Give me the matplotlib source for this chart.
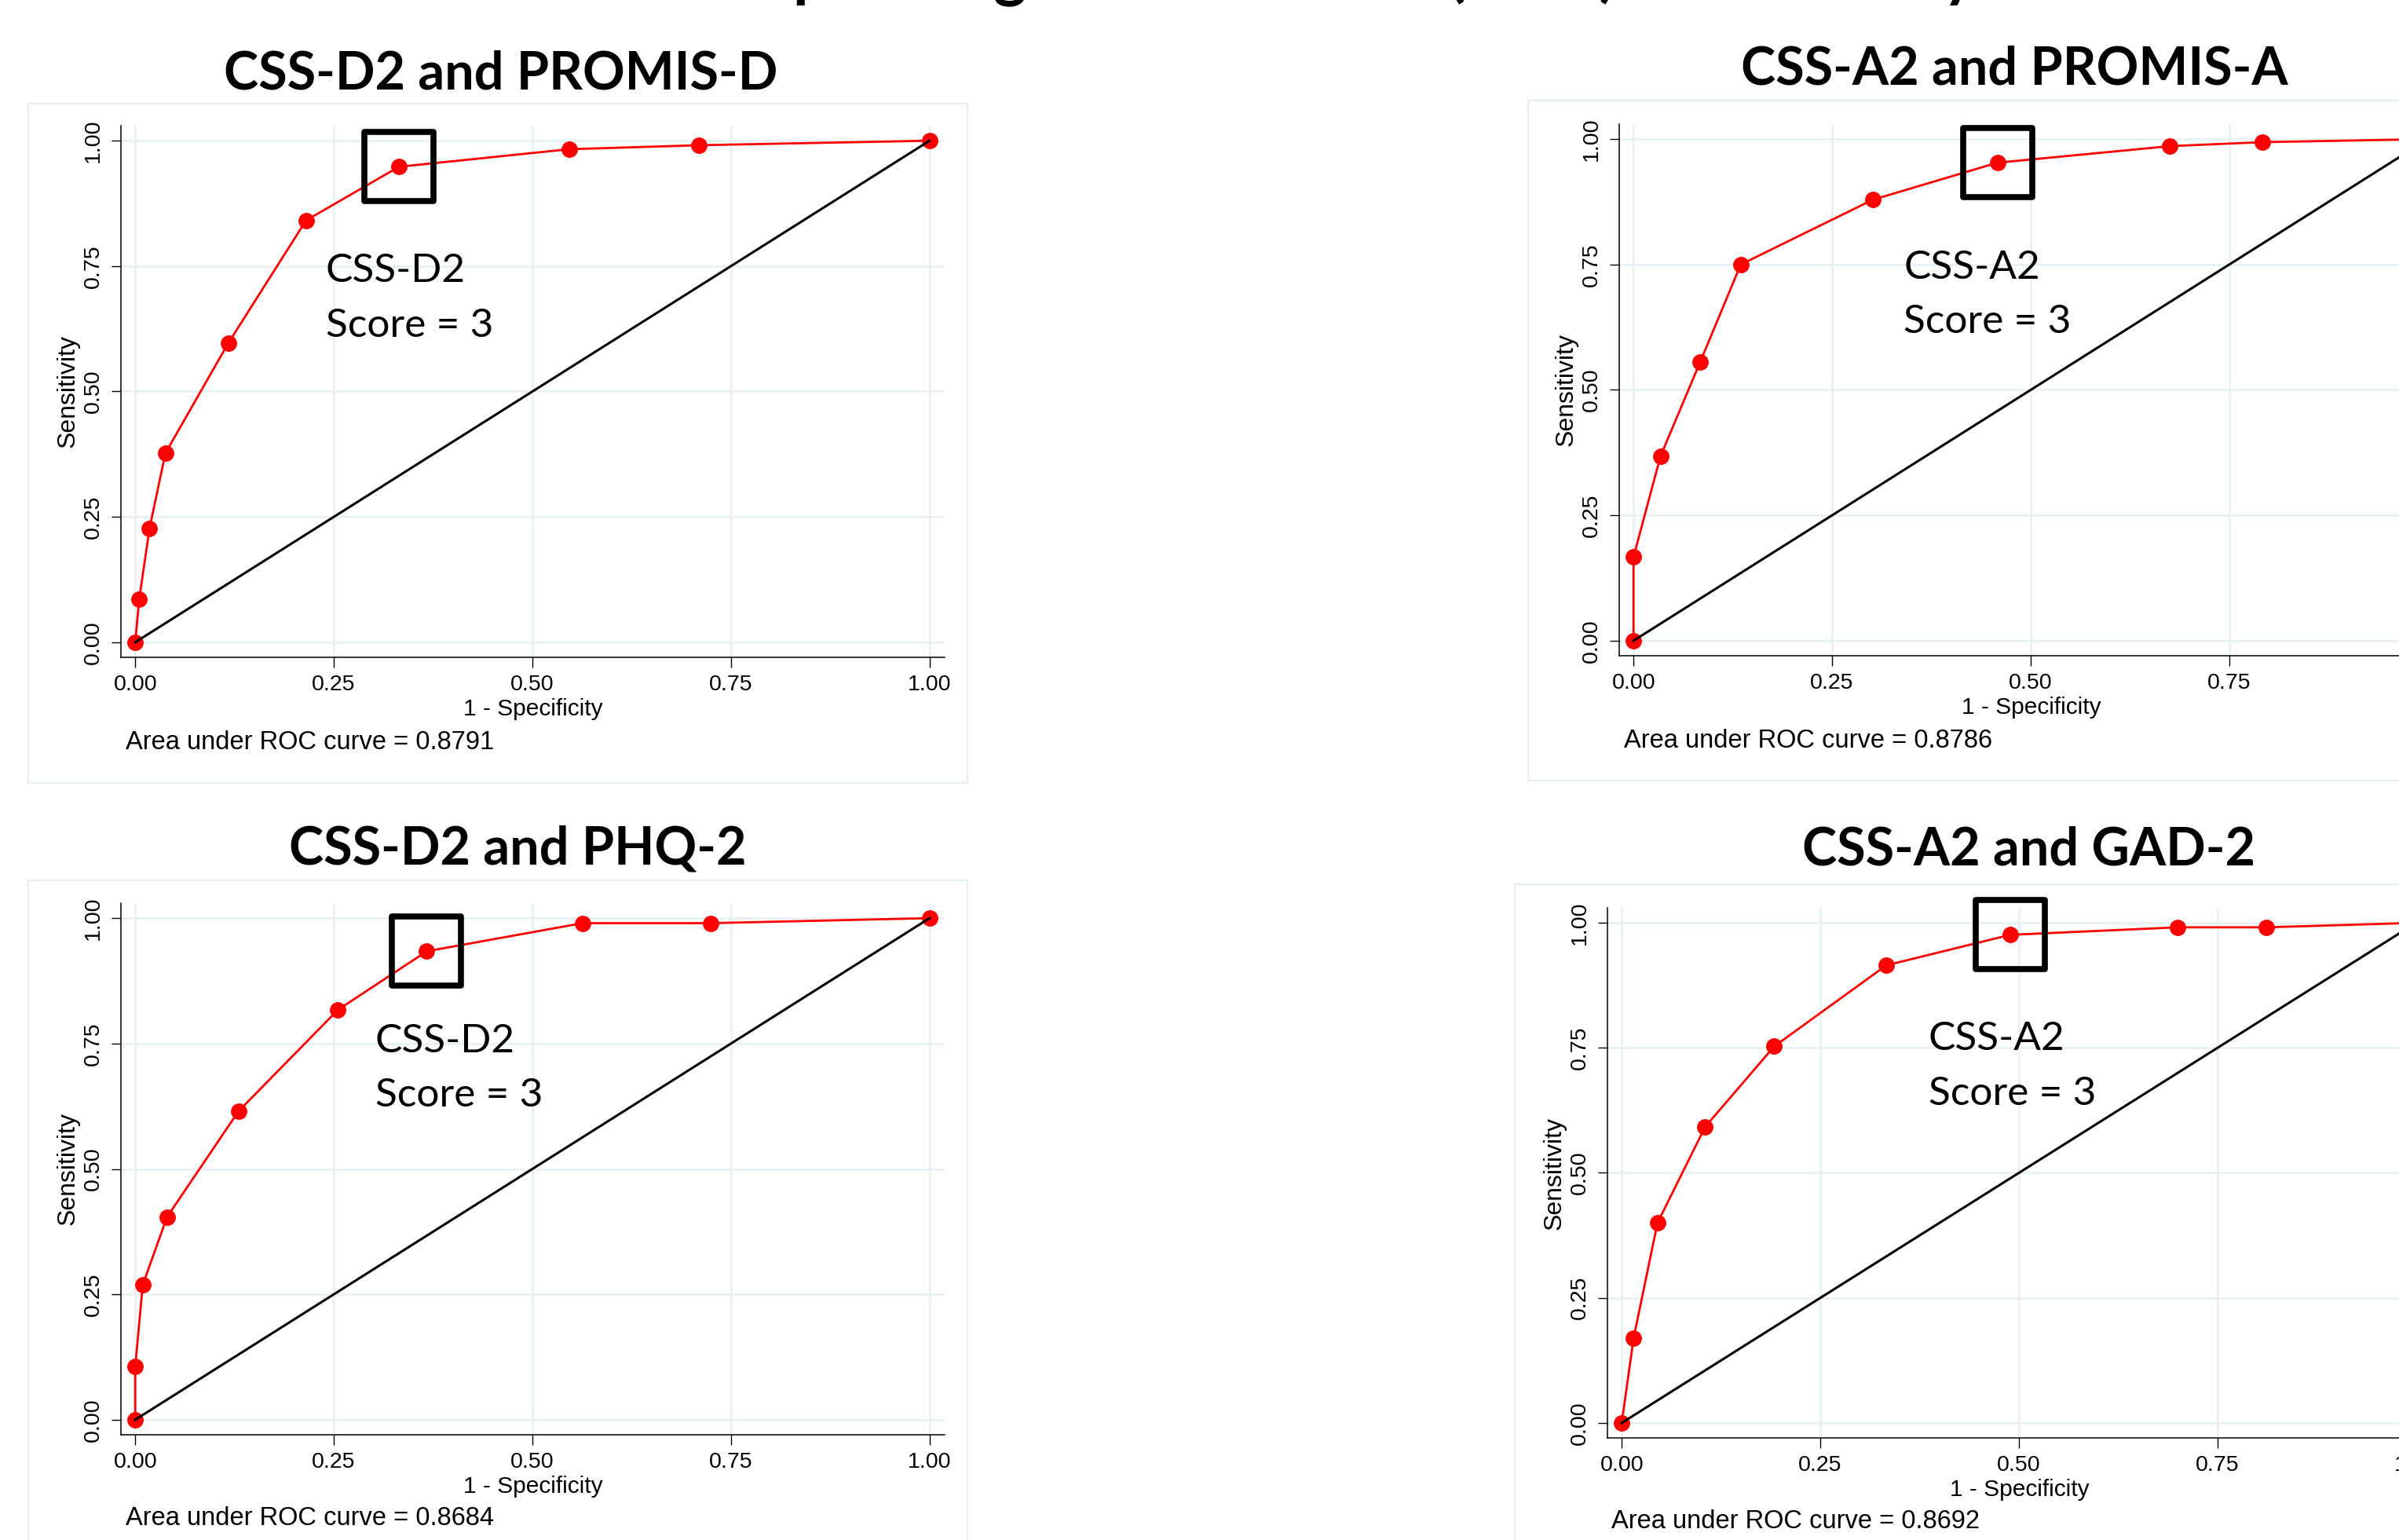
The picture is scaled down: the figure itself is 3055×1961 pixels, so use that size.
import matplotlib
matplotlib.use("Agg")
import matplotlib.pyplot as plt
from matplotlib.markers import MarkerStyle
from matplotlib.patches import Rectangle

W, H = 3055, 1961  # tamaño de salida en px (dpi=100)

# --- datos ---
fig_title = "Receiver Operating Characteristic (ROC) Curve Analysis"

titles = ["CSS-D2 and PROMIS-D", "CSS-A2 and PROMIS-A",
          "CSS-D2 and PHQ-2", "CSS-A2 and GAD-2"]
scales = ["CSS-D2", "CSS-A2", "CSS-D2", "CSS-A2"]
cut_labels = ["Score = 3", "Score = 3", "Score = 3", "Score = 3"]
aucs = [0.8791, 0.8786, 0.8684, 0.8692]
cut_idx = [6, 6, 6, 6]

fpr_d2_promis = [0.0, 0.005, 0.018, 0.038, 0.117, 0.215, 0.332, 0.546, 0.710, 1.0]
tpr_d2_promis = [0.0, 0.086, 0.227, 0.377, 0.596, 0.841, 0.948, 0.983, 0.991, 1.0]

fpr_a2_promis = [0.0, 0.0, 0.034, 0.084, 0.135, 0.301, 0.458, 0.675, 0.792, 1.0]
tpr_a2_promis = [0.0, 0.167, 0.368, 0.556, 0.750, 0.879, 0.953, 0.986, 0.994, 1.0]

fpr_d2_phq = [0.0, 0.0, 0.0095, 0.040, 0.130, 0.255, 0.367, 0.563, 0.724, 1.0]
tpr_d2_phq = [0.0, 0.106, 0.269, 0.404, 0.615, 0.817, 0.934, 0.990, 0.990, 1.0]

fpr_a2_gad = [0.0, 0.015, 0.045, 0.105, 0.192, 0.333, 0.489, 0.700, 0.811, 1.0]
tpr_a2_gad = [0.0, 0.170, 0.400, 0.592, 0.753, 0.915, 0.976, 0.991, 0.991, 1.0]

fprs = [fpr_d2_promis, fpr_a2_promis, fpr_d2_phq, fpr_a2_gad]
tprs = [tpr_d2_promis, tpr_a2_promis, tpr_d2_phq, tpr_a2_gad]

ticks = [0.0, 0.25, 0.50, 0.75, 1.0]
tick_labels = ["0.00", "0.25", "0.50", "0.75", "1.00"]

# --- layout en pixeles ---
# ejes: (izq, der, arriba, abajo)
AX = [(154, 1203, 160, 837), (2062, 3111, 158, 835),
      (154, 1203, 1150, 1827), (2047, 3096, 1156, 1831)]
# marco exterior: (izq, arriba, ancho, alto)
FR = [(36, 132, 1196, 865), (1946, 128, 1196, 866),
      (36, 1121, 1196, 865), (1929, 1126, 1196, 865)]
# titulo: (centro x, linea base y)
TT = [(638, 113), (2565, 108), (659, 1101), (2584, 1101)]
# texto AUC: (x, centro y)
AU = [(160, 945), (2068, 943), (160, 1934), (2052, 1937)]
# anotacion (en coords de datos): (x, linea base 1a linea)
AN = [(0.240, 0.718), (0.340, 0.722), (0.302, 0.733), (0.386, 0.745)]

GRID = "#e9f1f2"
FRAME = "#e6eef0"
SANS = ["Liberation Sans", "DejaVu Sans"]
CAL = ["Lato", "DejaVu Sans"]


def fx(x):
    return x / W


def fy(y):
    return 1 - y / H


fig = plt.figure(figsize=(W / 100, H / 100), dpi=100)
fig.patch.set_facecolor("white")

fig.text(fx(1610), fy(-8), fig_title, ha="center", va="baseline",
         fontsize=58, fontweight="bold", family=CAL)

for i in range(4):
    l, r, t, b = AX[i]
    fl, ft, fw, fh = FR[i]
    fig.add_artist(Rectangle((fx(fl), fy(ft + fh)), fw / W, fh / H,
                             transform=fig.transFigure, fill=False,
                             ec=FRAME, lw=1.6, zorder=0))
    fig.text(fx(TT[i][0]), fy(TT[i][1]), titles[i], ha="center",
             va="baseline", fontsize=48, fontweight="bold", family=CAL)

    ax = fig.add_axes([fx(l), fy(b), (r - l) / W, (b - t) / H])
    ax.set_xlim(-0.018, 1.019)
    ax.set_ylim(-0.03, 1.03)
    ax.set_xticks(ticks, tick_labels, family=SANS)
    ax.set_yticks(ticks, tick_labels, family=SANS)
    ax.tick_params(direction="out", length=9, width=1, labelsize=20.5,
                   pad=7, color="black")
    ax.tick_params(axis="y", labelrotation=90)
    for lab in ax.get_yticklabels():
        lab.set_va("center")
    ax.grid(True, color=GRID, lw=2)
    ax.set_axisbelow(True)
    for s in ("top", "right"):
        ax.spines[s].set_visible(False)
    for s in ("left", "bottom"):
        ax.spines[s].set_linewidth(1.1)
    ax.set_xlabel("1 - Specificity", fontsize=21.5, family=SANS, labelpad=3)
    ax.set_ylabel("Sensitivity", fontsize=23, family=SANS, labelpad=3)

    x, y = fprs[i], tprs[i]
    ax.plot(x, y, color="red", lw=2, marker="o", ms=14, zorder=3,
            clip_on=False)
    ax.plot([0, 1], [0, 1], color="black", lw=2.2, zorder=4, clip_on=False)
    k = cut_idx[i]
    ax.plot(x[k], y[k], marker=MarkerStyle("s", joinstyle="round"), ms=64,
            mfc="none", mec="black", mew=5.5, zorder=5, clip_on=False)

    axx, axy = AN[i]
    ax.text(axx, axy, scales[i], fontsize=37, family=CAL, va="baseline")
    ax.annotate(cut_labels[i], (axx, axy), xytext=(0, -50),
                textcoords="offset points", fontsize=37, family=CAL,
                va="baseline")

    fig.text(fx(AU[i][0]), fy(AU[i][1]),
             "Area under ROC curve = %.4f" % aucs[i],
             ha="left", va="center", fontsize=23.5, family=SANS)

fig.savefig("out.png", dpi=100, facecolor="white")
